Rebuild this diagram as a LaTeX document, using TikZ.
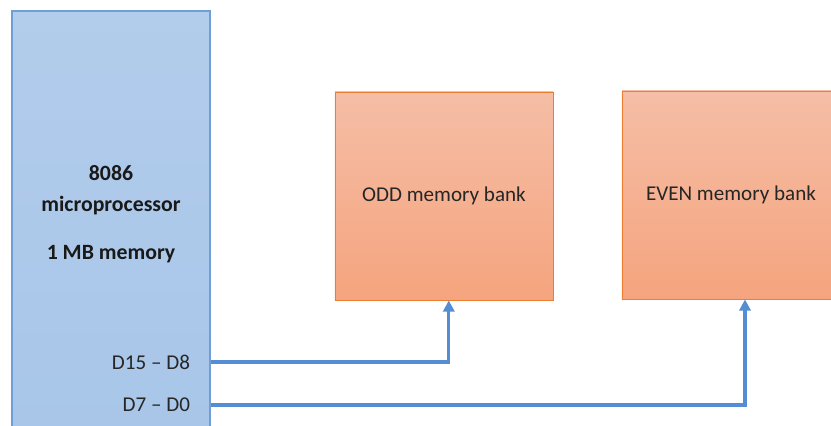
\documentclass[tikz,border=0pt]{standalone}
\usepackage{fontspec}
\setmainfont{Carlito}
\usepackage{tikz}
\usetikzlibrary{arrows.meta,positioning}
\definecolor{cpublue}{RGB}{168,198,233}
\definecolor{cputop}{RGB}{178,204,235}
\definecolor{cpuedge}{RGB}{110,160,215}
\definecolor{banktop}{RGB}{245,190,166}
\definecolor{bankbot}{RGB}{245,164,126}
\definecolor{bankedge}{RGB}{237,125,49}
\definecolor{busblue}{RGB}{84,141,212}

\begin{document}
\begin{tikzpicture}[x=0.025cm,y=-0.025cm,
  cpubox/.style={rectangle,draw=cpuedge,line width=0.8pt,top color=cputop,
                 bottom color=cpublue,minimum width=4.95cm,minimum height=10.725cm},
  bank/.style={rectangle,draw=bankedge,line width=0.6pt,top color=banktop,
               bottom color=bankbot,minimum width=5.45cm,minimum height=5.2cm,
               font=\fontsize{15}{18}\selectfont,text=black!85},
  cpulbl/.style={align=center,font=\fontsize{15.5}{22}\selectfont\bfseries,text=black!90},
  pin/.style={anchor=east,font=\fontsize{15}{18}\selectfont,text=black!85},
  bus/.style={-{Triangle[width=8pt,length=8pt]},line width=2.3pt,color=busblue}
]
  \useasboundingbox (0,0) rectangle (831,426);
  \fill[white] (0,0) rectangle (831,426);
  \clip (0,0) rectangle (831,426);
  \node[cpubox] (cpu) at (111,225.5) {};
  \node[cpulbl] (cpulabel) at (111,214) {8086\\microprocessor\\[12pt]1 MB memory};
  \node[pin] (d15) at (195,362) {D15 – D8};
  \node[pin] (d7) at (195,405) {D7 – D0};
  \node[bank] (odd) at (444,196) {ODD memory bank};
  \node[bank] (even) at (731,195) {EVEN memory bank};
  \draw[bus] (cpu.east |- d15) -| ([xshift=0.12cm]odd.south);
  \draw[bus] (cpu.east |- d7) -| ([xshift=0.35cm]even.south);
\end{tikzpicture}
\end{document}
